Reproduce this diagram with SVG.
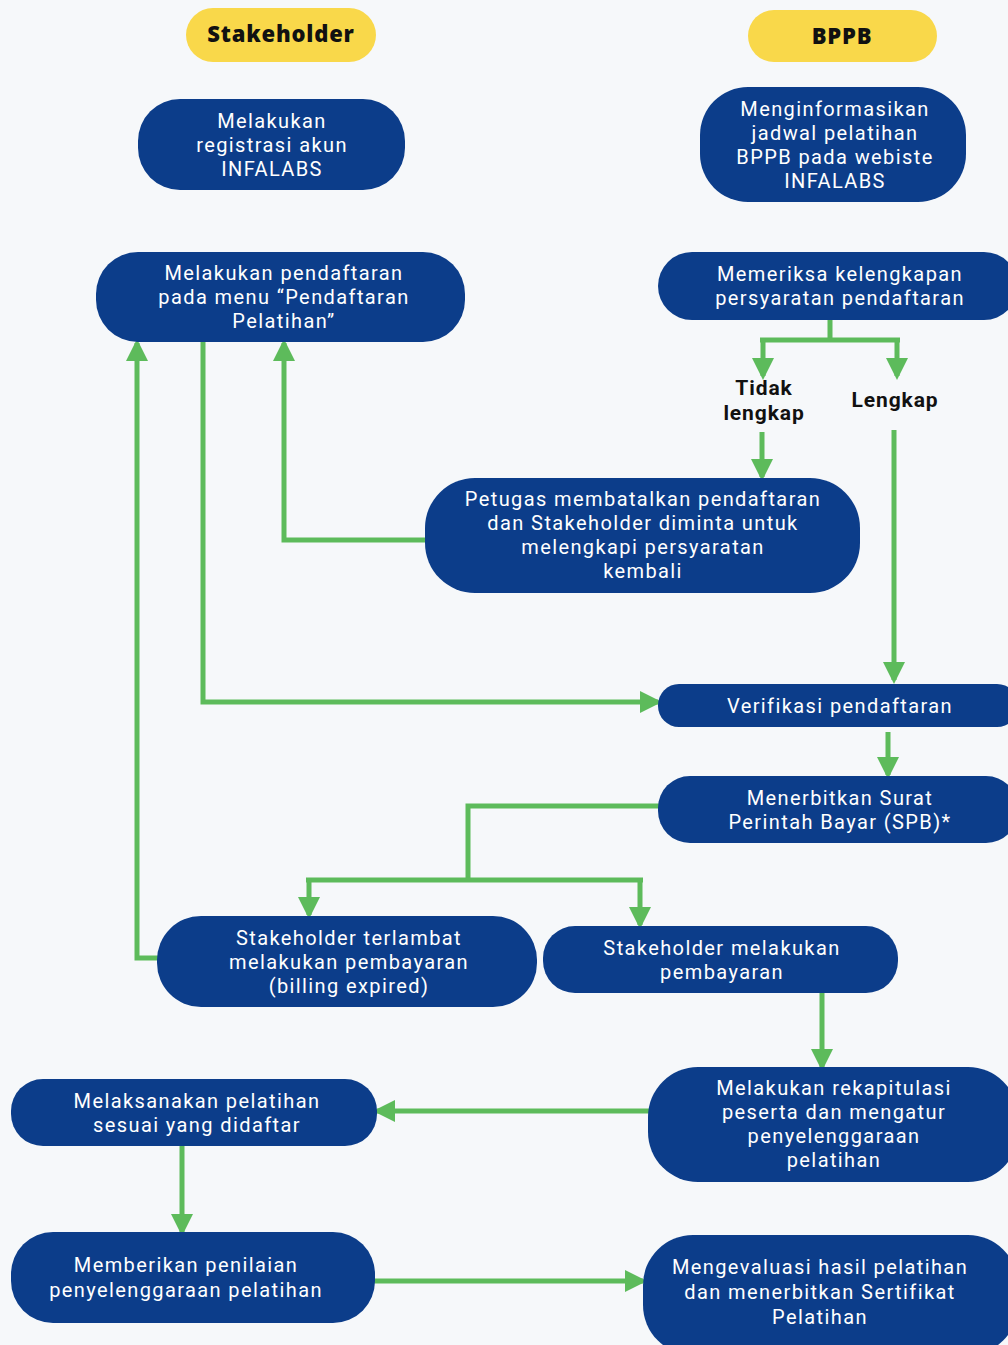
<svg xmlns="http://www.w3.org/2000/svg" width="1008" height="1345" viewBox="0 0 1008 1345">
<defs>
<style>
.bg{fill:#f6f8fa}
.node{fill:#0c3d8a}
.hdr{fill:#f9d84a}
.t{font-family:Roboto,"Liberation Sans",sans-serif;font-size:20px;letter-spacing:1.4px;fill:#ffffff;text-anchor:middle}
.h{font-family:"Open Sans","Noto Sans","Liberation Sans",sans-serif;font-size:22px;letter-spacing:0.8px;font-weight:800;fill:#111111;text-anchor:middle}
.lbl{font-family:Roboto,"Liberation Sans",sans-serif;font-size:21px;letter-spacing:0.9px;font-weight:bold;fill:#111111;text-anchor:middle}
.c{fill:none;stroke:#5dbb5b;stroke-width:5;stroke-linejoin:miter}
</style>
<marker id="ah" markerUnits="userSpaceOnUse" markerWidth="24" markerHeight="24" viewBox="0 0 24 24" refX="18" refY="12" orient="auto">
<path d="M0,1 L22,12 L0,23 Z" fill="#5dbb5b"/>
</marker>
</defs>
<rect class="bg" x="0" y="0" width="1008" height="1345"/>
<g id="hdr-stakeholder">
<rect class="hdr" x="186" y="8" width="190" height="54" rx="27"/>
<text class="h" x="281" y="42">Stakeholder</text>
</g>
<g id="hdr-bppb">
<rect class="hdr" x="748" y="10" width="189" height="52" rx="26"/>
<text class="h" x="842" y="44">BPPB</text>
</g>
<g id="connectors">
<path class="c" d="M830,320 L830,340"/>
<path class="c" d="M760,340 L900,340"/>
<path class="c" d="M763,338 L763,376" marker-end="url(#ah)"/>
<path class="c" d="M897,338 L897,376" marker-end="url(#ah)"/>
<path class="c" d="M762,432 L762,477" marker-end="url(#ah)"/>
<path class="c" d="M894,430 L894,680" marker-end="url(#ah)"/>
<path class="c" d="M427,540 L284,540 L284,343" marker-end="url(#ah)"/>
<path class="c" d="M203,342 L203,702 L658,702" marker-end="url(#ah)"/>
<path class="c" d="M888,732 L888,775" marker-end="url(#ah)"/>
<path class="c" d="M660,806 L468,806 L468,880"/>
<path class="c" d="M306,880 L643,880"/>
<path class="c" d="M309,878 L309,915" marker-end="url(#ah)"/>
<path class="c" d="M640,878 L640,925" marker-end="url(#ah)"/>
<path class="c" d="M160,958 L137,958 L137,343" marker-end="url(#ah)"/>
<path class="c" d="M822,993 L822,1067" marker-end="url(#ah)"/>
<path class="c" d="M650,1111 L377,1111" marker-end="url(#ah)"/>
<path class="c" d="M182,1146 L182,1232" marker-end="url(#ah)"/>
<path class="c" d="M373,1281 L643,1281" marker-end="url(#ah)"/>
</g>
<g id="n-registrasi">
<rect class="node" x="138" y="99" width="267" height="91" rx="42"/>
<text class="t" x="272" y="128">Melakukan</text>
<text class="t" x="272" y="152">registrasi akun</text>
<text class="t" x="272" y="176">INFALABS</text>
</g>
<g id="n-informasi">
<rect class="node" x="700" y="87" width="266" height="115" rx="48"/>
<text class="t" x="835" y="116">Menginformasikan</text>
<text class="t" x="835" y="140">jadwal pelatihan</text>
<text class="t" x="835" y="164">BPPB pada webiste</text>
<text class="t" x="835" y="188">INFALABS</text>
</g>
<g id="n-pendaftaran">
<rect class="node" x="96" y="252" width="369" height="90" rx="42"/>
<text class="t" x="284" y="280">Melakukan pendaftaran</text>
<text class="t" x="284" y="304">pada menu “Pendaftaran</text>
<text class="t" x="284" y="328">Pelatihan”</text>
</g>
<g id="n-memeriksa">
<rect class="node" x="658" y="252" width="360" height="68" rx="34"/>
<text class="t" x="840" y="281">Memeriksa kelengkapan</text>
<text class="t" x="840" y="305">persyaratan pendaftaran</text>
</g>
<g id="lbl-tidak">
<text class="lbl" x="764" y="395">Tidak</text>
<text class="lbl" x="764" y="420">lengkap</text>
</g>
<g id="lbl-lengkap">
<text class="lbl" x="895" y="407">Lengkap</text>
</g>
<g id="n-petugas">
<rect class="node" x="425" y="478" width="435" height="115" rx="50"/>
<text class="t" x="643" y="506">Petugas membatalkan pendaftaran</text>
<text class="t" x="643" y="530">dan Stakeholder diminta untuk</text>
<text class="t" x="643" y="554">melengkapi persyaratan</text>
<text class="t" x="643" y="578">kembali</text>
</g>
<g id="n-verifikasi">
<rect class="node" x="658" y="684" width="360" height="43" rx="21"/>
<text class="t" x="840" y="713">Verifikasi pendaftaran</text>
</g>
<g id="n-spb">
<rect class="node" x="658" y="776" width="360" height="67" rx="32"/>
<text class="t" x="840" y="805">Menerbitkan Surat</text>
<text class="t" x="840" y="829">Perintah Bayar (SPB)*</text>
</g>
<g id="n-terlambat">
<rect class="node" x="157" y="916" width="380" height="91" rx="44"/>
<text class="t" x="349" y="945">Stakeholder terlambat</text>
<text class="t" x="349" y="969">melakukan pembayaran</text>
<text class="t" x="349" y="993">(billing expired)</text>
</g>
<g id="n-pembayaran">
<rect class="node" x="543" y="926" width="355" height="67" rx="32"/>
<text class="t" x="722" y="955">Stakeholder melakukan</text>
<text class="t" x="722" y="979">pembayaran</text>
</g>
<g id="n-rekapitulasi">
<rect class="node" x="648" y="1067" width="370" height="115" rx="50"/>
<text class="t" x="834" y="1095">Melakukan rekapitulasi</text>
<text class="t" x="834" y="1119">peserta dan mengatur</text>
<text class="t" x="834" y="1143">penyelenggaraan</text>
<text class="t" x="834" y="1167">pelatihan</text>
</g>
<g id="n-melaksanakan">
<rect class="node" x="11" y="1079" width="366" height="67" rx="32"/>
<text class="t" x="197" y="1108">Melaksanakan pelatihan</text>
<text class="t" x="197" y="1132">sesuai yang didaftar</text>
</g>
<g id="n-memberikan">
<rect class="node" x="11" y="1232" width="364" height="91" rx="42"/>
<text class="t" x="186" y="1272">Memberikan penilaian</text>
<text class="t" x="186" y="1297">penyelenggaraan pelatihan</text>
</g>
<g id="n-mengevaluasi">
<rect class="node" x="643" y="1235" width="375" height="120" rx="50"/>
<text class="t" x="820" y="1274">Mengevaluasi hasil pelatihan</text>
<text class="t" x="820" y="1299">dan menerbitkan Sertifikat</text>
<text class="t" x="820" y="1324">Pelatihan</text>
</g>
</svg>
